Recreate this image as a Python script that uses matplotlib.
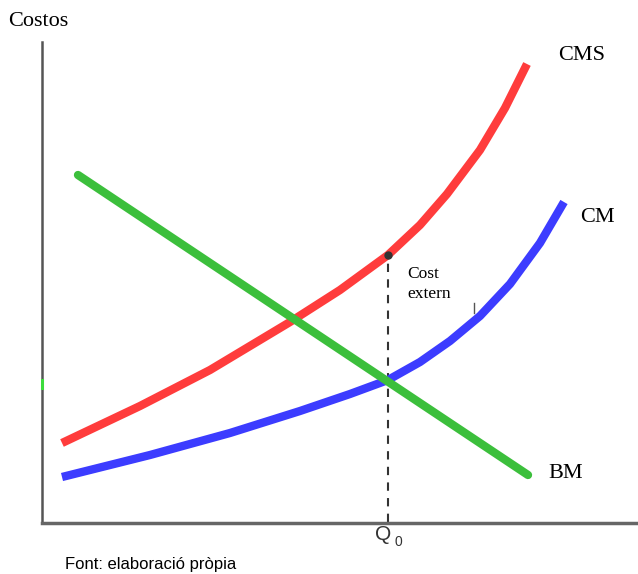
import matplotlib
matplotlib.use("Agg")
import matplotlib.pyplot as plt

# ---- data (quantity, cost) ----
cms_q = [0.40, 1.96, 3.36, 4.96, 5.96, 6.92, 7.56, 8.10, 8.76, 9.26, 9.70]
cms_c = [1.58, 2.32, 3.04, 4.00, 4.64, 5.34, 5.94, 6.56, 7.44, 8.28, 9.16]

cm_q = [0.40, 2.16, 3.76, 5.16, 6.16, 6.92, 7.56, 8.16, 8.76, 9.36, 9.96, 10.44]
cm_c = [0.90, 1.34, 1.78, 2.22, 2.56, 2.84, 3.20, 3.62, 4.12, 4.76, 5.58, 6.40]

bm_q = [0.72, 9.72]
bm_c = [6.94, 0.94]

q0 = 6.92
q0_cost = 5.34

labels = {"CMS": (10.32, 9.34), "CM": (10.76, 6.10), "BM": (10.12, 0.96)}

W, H = 638, 574
fig = plt.figure(figsize=(W / 100, H / 100), dpi=100)
ax = fig.add_axes([42 / W, (574 - 523) / H, (638 - 42) / W, (523 - 42) / H])
ax.set_xlim(0, 11.92)
ax.set_ylim(-0.02, 9.6)

serif = ["Liberation Serif", "DejaVu Serif"]
sans = ["Liberation Sans", "DejaVu Sans"]

ax.plot(cms_q, cms_c, color="#ff3c3c", lw=6, solid_capstyle="butt",
        solid_joinstyle="round", zorder=3)
ax.plot(cm_q, cm_c, color="#3c3cff", lw=6, solid_capstyle="butt",
        solid_joinstyle="round", zorder=3)
ax.plot(bm_q, bm_c, color="#3cbf3c", lw=6, solid_capstyle="round", zorder=4)

ax.plot([q0, q0], [0, q0_cost], color="#333333", lw=1.5, ls=(0, (4, 3.5)), zorder=2)
ax.plot([q0], [q0_cost], "o", color="#333333", ms=5, zorder=5)

# small stray marks present in the original
ax.plot([8.64, 8.64], [4.18, 4.38], color="#555555", lw=1, zorder=2)
ax.plot([0, 0], [2.68, 2.84], color="#3cdc3c", lw=2.2, clip_on=False, zorder=6)

for name, (x, y) in labels.items():
    ax.text(x, y, name, fontsize=16, family=serif, ha="left", va="center")

ax.text(q0 + 0.38, 4.88, "Cost", fontsize=12.5, family=serif, ha="left", va="baseline")
ax.text(q0 + 0.38, 4.48, "extern", fontsize=12.5, family=serif, ha="left", va="baseline")

ax.text(q0 - 0.1, -0.26, "Q", fontsize=15, family=sans,
        ha="center", va="center", color="#333333")
ax.text(q0 + 0.2, -0.40, "0", fontsize=10, family=sans,
        ha="center", va="center", color="#333333")

for s in ["top", "right"]:
    ax.spines[s].set_visible(False)
ax.spines["left"].set_color("#555555")
ax.spines["left"].set_linewidth(1.8)
ax.spines["bottom"].set_color("#666666")
ax.spines["bottom"].set_linewidth(2.5)
ax.set_xticks([])
ax.set_yticks([])

fig.text(8 / W, 1 - 22 / H, "Costos", fontsize=16, family=serif, ha="left", va="center")
fig.text(65 / W, 1 - 565 / H, "Font: elaboració pròpia", fontsize=12, family=sans,
         ha="left", va="center")

fig.savefig("out.png", dpi=100)
